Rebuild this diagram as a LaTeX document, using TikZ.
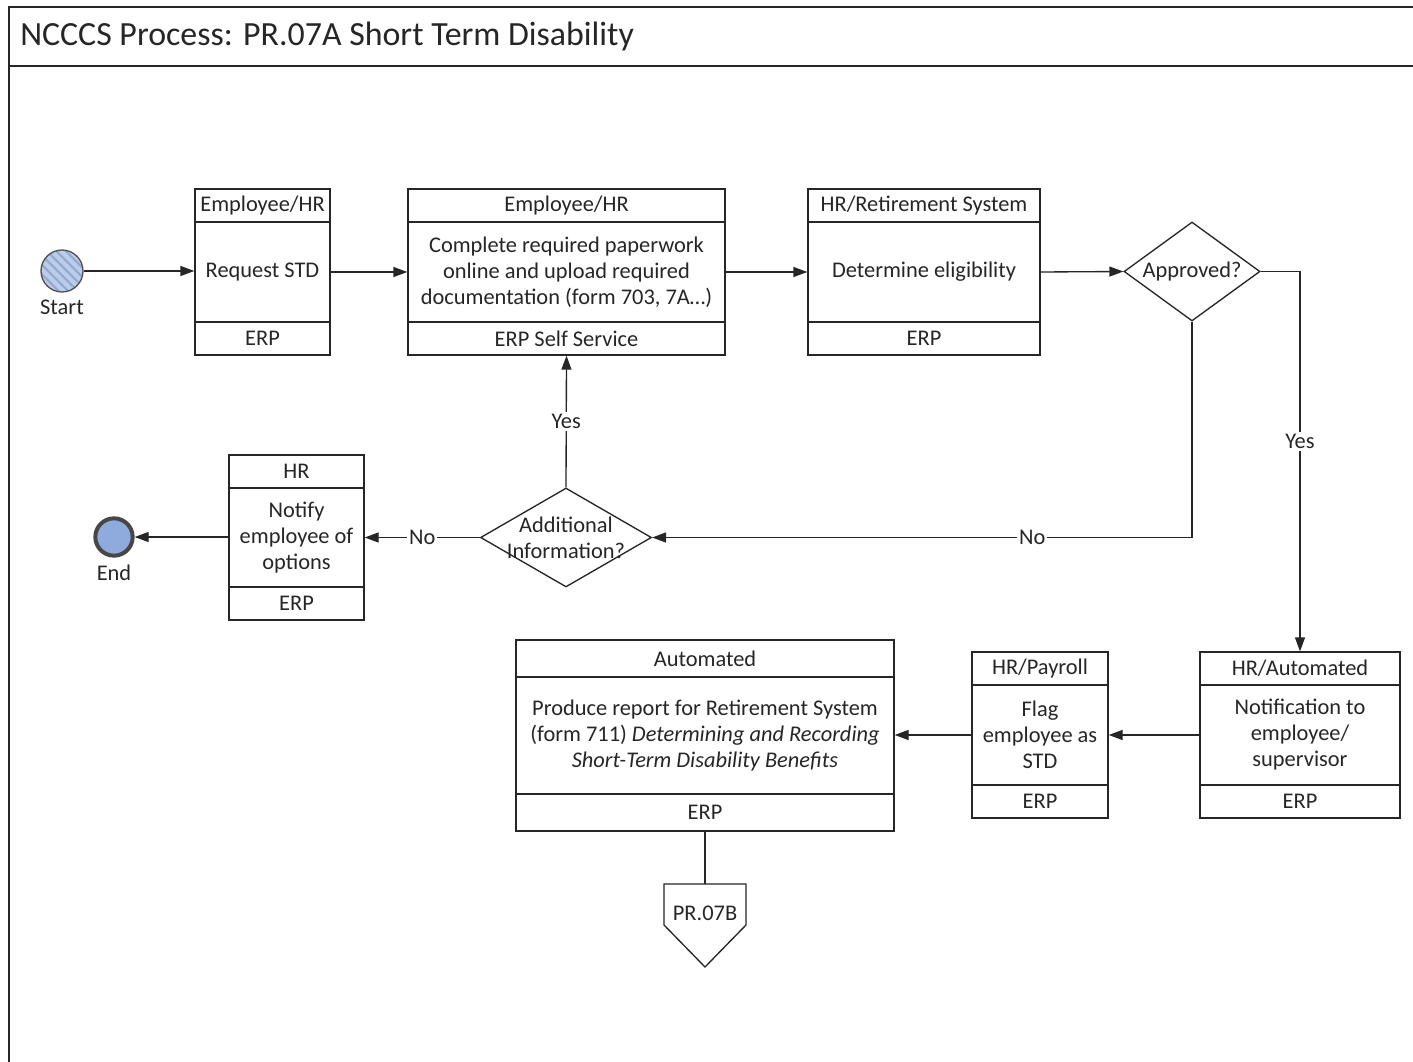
\documentclass[tikz,border=0pt]{standalone}
\usepackage{fontspec}
\setmainfont{Carlito}
\usetikzlibrary{arrows.meta,positioning,calc,shapes.geometric,fit,patterns.meta}
\definecolor{ink}{HTML}{262626}
\definecolor{startc}{HTML}{BCCDEA}
\definecolor{hatchc}{HTML}{93A9D0}
\definecolor{endc}{HTML}{8FAADC}
\tikzset{frame/.style={draw=ink,line width=1pt,inner sep=0pt},
  decision/.style={diamond,draw=ink,line width=1pt,inner sep=0pt,fill=white},
  flow/.style={draw=ink,line width=1pt,-{Triangle[length=10.5pt,width=7.5pt]}},
  tag/.style={fill=white,inner sep=1.5pt},
  startev/.style={circle,draw=ink!80,line width=1pt,minimum size=31.5pt,inner sep=0pt,
    preaction={fill=startc},pattern={Lines[angle=-45,distance=5pt,line width=1.6pt]},pattern color=hatchc},
  endev/.style={circle,draw=ink!85,line width=3pt,minimum size=28pt,inner sep=0pt,fill=endc}}

% activity box: name, x1, y1, x2, y2, role, task, system, strip height
\newcommand{\actbox}[9]{%
  \node[frame,fit={(#2,#3) (#4,#5)}] (#1) {};
  \draw[ink,line width=1pt] (#2,#3+#9) -- (#4,#3+#9) (#2,#5-#9) -- (#4,#5-#9);
  \node (#1-head) at ({(#2+#4)/2},{#3+#9/2}) {#6};
  \node[align=center] (#1-task) at ({(#2+#4)/2},{(#3+#5)/2}) {#7};
  \node (#1-sys) at ({(#2+#4)/2},{#5-#9/2}) {#8};
}

\begin{document}
\begin{tikzpicture}[x=0.75pt,y=-0.75pt,font=\fontsize{16.8}{19.5}\selectfont,text=ink]
\useasboundingbox[fill=white] (0,0) rectangle (1413,1062);
% page frame and title bar
\draw[ink,line width=1pt] (9,1062) -- (9,7) -- (1413,7) (9,66) -- (1413,66);
\node[anchor=west,inner sep=0pt,font=\fontsize{25.4}{30}\selectfont] (title) at (20,36)
  {NCCCS Process: PR.07A Short Term Disability};

% events
\node[startev] (start) at (62,271) {};
\node (start-lbl) at (62,307) {Start};
\node[endev] (end) at (114,537) {};
\node (end-lbl) at (114,573) {End};

% activities
\actbox{req}{195}{189}{330}{355}{Employee/HR}{Request STD}{ERP}{33}
\actbox{paper}{408}{189}{725}{355}{Employee/HR}{Complete required paperwork\\online and upload required\\documentation (form 703, 7A\dots)}{ERP Self Service}{33}
\actbox{elig}{808}{189}{1040}{355}{HR/Retirement System}{Determine eligibility}{ERP}{33}
\actbox{hrnote}{229}{455}{364}{620}{HR}{Notify\\employee of\\options}{ERP}{33}
\actbox{notify}{1200}{652}{1400}{818}{HR/Automated}{Notification to\\employee/\\supervisor}{ERP}{33}
\actbox{flag}{972}{652}{1108}{818}{HR/Payroll}{Flag\\employee as\\STD}{ERP}{33}
\actbox{report}{516}{640}{894}{831}{Automated}{Produce report for Retirement System\\(form 711) \textit{Determining and Recording}\\\textit{Short-Term Disability Benefits}}{ERP}{37}

% gateways
\node[decision,minimum width=102pt,minimum height=74.25pt] (approved) at (1192,271.5) {};
\node (approved-q) at (approved) {Approved?};
\node[decision,minimum width=128.25pt,minimum height=74.25pt] (addinfo) at (566,537.5) {};
\node[align=center] (addinfo-q) at (addinfo) {Additional\\Information?};

% off-page reference
\draw[ink,line width=1pt,fill=white] (664,884) -- (746,884) -- (746,925) -- (705,967) -- (664,925) -- cycle;
\coordinate (offtop) at (705,884);
\node (offpage) at (705,913) {PR.07B};

% sequence flows
\draw[flow] (start.east) -- (start.east -| req.west);
\draw[flow] (req.east) -- (paper.west);
\draw[flow] (paper.east) -- (elig.west);
\draw[flow] (elig.east) -- (approved.west);
\draw[flow] (approved.east) -| node[tag,pos=0.724] {Yes} (notify.north);
\draw[flow] (approved.south) |- node[tag,pos=0.648] {No} (addinfo.east);
\draw[flow] (addinfo.north) -- node[tag] {Yes} (paper.south);
\draw[flow] (addinfo.west) -- node[tag] {No} (hrnote.east |- addinfo.west);
\draw[flow] (hrnote.west |- end) -- (end.east);
\draw[flow] (notify.west) -- (flag.east);
\draw[flow] (flag.west) -- (report.east |- flag.west);
\draw[ink,line width=1pt] (report.south) -- (offtop);
\end{tikzpicture}
\end{document}
